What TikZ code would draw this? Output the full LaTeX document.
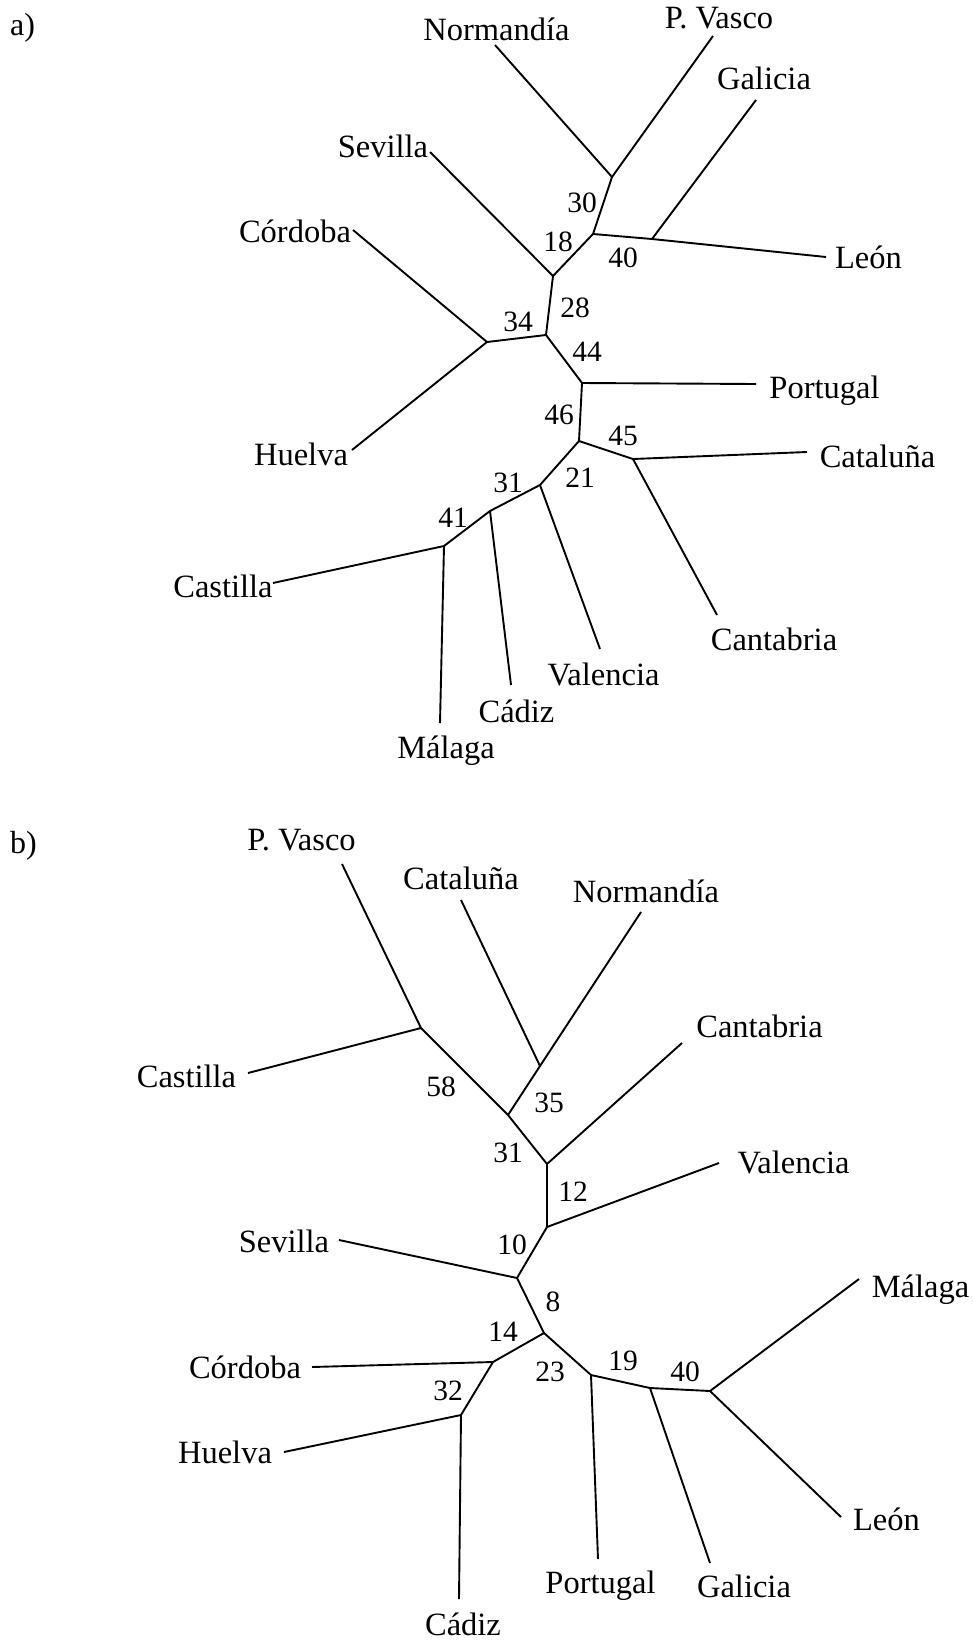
\documentclass[tikz,border=0pt]{standalone}
\usepackage{fontspec}
\setmainfont{Liberation Serif}
\begin{document}
\begin{tikzpicture}[x=1pt,y=-1pt,
  branch/.style={line width=1.9pt, line join=round},
  lbl/.style={font=\fontsize{32.5}{38}\selectfont, anchor=base, inner sep=0pt},
  num/.style={font=\fontsize{29.5}{34}\selectfont, inner sep=0pt},
  tag/.style={font=\fontsize{32}{36}\selectfont, anchor=base west, inner sep=0pt}]
\useasboundingbox (0,0) rectangle (973,1641);

% ---------------- tree a) ----------------
\node[tag] (taga) at (10,35) {a)};
% internal junctions
\coordinate (A) at (612,177);
\coordinate (B) at (593,234);
\coordinate (C) at (652,239);
\coordinate (D) at (553,276);
\coordinate (F) at (546,335);
\coordinate (E) at (487,342);
\coordinate (G) at (582,383);
\coordinate (H) at (579,441);
\coordinate (I) at (633,459);
\coordinate (J) at (540,485);
\coordinate (K) at (490,511);
\coordinate (L) at (444,546);
% leaf ends
\coordinate (aNor) at (495,45);
\coordinate (aPV) at (713,36);
\coordinate (aGal) at (756,100);
\coordinate (aLeon) at (826,257);
\coordinate (aSev) at (430,152);
\coordinate (aCor) at (353,230);
\coordinate (aHue) at (352,450);
\coordinate (aPor) at (756,384);
\coordinate (aCat) at (807,452);
\coordinate (aCan) at (717,615);
\coordinate (aVal) at (600,649);
\coordinate (aCad) at (511,685);
\coordinate (aMal) at (440,723);
\coordinate (aCas) at (273,583);

\draw[branch] (aNor) -- (A) -- (aPV);
\draw[branch] (A) -- (B) -- (C) -- (aLeon);
\draw[branch] (C) -- (aGal);
\draw[branch] (B) -- (D) -- (aSev);
\draw[branch] (D) -- (F) -- (E) -- (aCor);
\draw[branch] (E) -- (aHue);
\draw[branch] (F) -- (G) -- (aPor);
\draw[branch] (G) -- (H) -- (I) -- (aCat);
\draw[branch] (I) -- (aCan);
\draw[branch] (H) -- (J) -- (aVal);
\draw[branch] (J) -- (K) -- (aCad);
\draw[branch] (K) -- (L) -- (aCas);
\draw[branch] (L) -- (aMal);

% leaf labels
\node[lbl] (laNor) at (496.5,40) {Normandía};
\node[lbl] (laPV) at (719,28) {P. Vasco};
\node[lbl] (laGal) at (764,89) {Galicia};
\node[lbl] (laLeon) at (868.5,268) {León};
\node[lbl] (laSev) at (383,157) {Sevilla};
\node[lbl] (laCor) at (295,242) {Córdoba};
\node[lbl] (laHue) at (301,465) {Huelva};
\node[lbl] (laPor) at (824.5,398) {Portugal};
\node[lbl] (laCat) at (877.5,467) {Cataluña};
\node[lbl] (laCan) at (774,650) {Cantabria};
\node[lbl] (laVal) at (603.5,685) {Valencia};
\node[lbl] (laCad) at (516.5,722) {Cádiz};
\node[lbl] (laMal) at (446,758) {Málaga};
\node[lbl] (laCas) at (223,597) {Castilla};

% branch support values
\node[num] (na30) at (582,203) {30};
\node[num] (na18) at (558,242) {18};
\node[num] (na40) at (623,258) {40};
\node[num] (na28) at (575,308) {28};
\node[num] (na34) at (518,322) {34};
\node[num] (na44) at (587,352) {44};
\node[num] (na46) at (559,415) {46};
\node[num] (na45) at (623,436) {45};
\node[num] (na21) at (580,478) {21};
\node[num] (na31) at (508,483) {31};
\node[num] (na41) at (453,518) {41};

% ---------------- tree b) ----------------
\node[tag] (tagb) at (10,853) {b)};
% internal junctions
\coordinate (M) at (421,1028);
\coordinate (N) at (508,1115);
\coordinate (O) at (540,1066);
\coordinate (P) at (547,1164);
\coordinate (Q) at (547,1227);
\coordinate (R) at (517,1278);
\coordinate (S) at (544,1333);
\coordinate (T) at (493,1362);
\coordinate (U) at (461,1415);
\coordinate (V) at (591,1375);
\coordinate (W) at (650,1388);
\coordinate (X) at (710,1391);
% leaf ends
\coordinate (bPV) at (342,864);
\coordinate (bCas) at (248,1073);
\coordinate (bCat) at (461,900);
\coordinate (bNor) at (641,912);
\coordinate (bCan) at (682,1043);
\coordinate (bVal) at (719,1163);
\coordinate (bSev) at (339,1240);
\coordinate (bCor) at (312,1367);
\coordinate (bHue) at (284,1452);
\coordinate (bCad) at (459,1599);
\coordinate (bPor) at (598,1559);
\coordinate (bGal) at (710,1563);
\coordinate (bMal) at (859,1279);
\coordinate (bLeon) at (841,1517);

\draw[branch] (bPV) -- (M) -- (bCas);
\draw[branch] (M) -- (N) -- (O) -- (bCat);
\draw[branch] (O) -- (bNor);
\draw[branch] (N) -- (P) -- (bCan);
\draw[branch] (P) -- (Q) -- (bVal);
\draw[branch] (Q) -- (R) -- (bSev);
\draw[branch] (R) -- (S) -- (T) -- (bCor);
\draw[branch] (T) -- (U) -- (bHue);
\draw[branch] (U) -- (bCad);
\draw[branch] (S) -- (V) -- (bPor);
\draw[branch] (V) -- (W) -- (bGal);
\draw[branch] (W) -- (X) -- (bMal);
\draw[branch] (X) -- (bLeon);

% leaf labels
\node[lbl] (lbPV) at (301.5,850) {P. Vasco};
\node[lbl] (lbCat) at (461,889) {Cataluña};
\node[lbl] (lbNor) at (646,902) {Normandía};
\node[lbl] (lbCas) at (186.5,1087) {Castilla};
\node[lbl] (lbCan) at (759.5,1037) {Cantabria};
\node[lbl] (lbVal) at (793.5,1173) {Valencia};
\node[lbl] (lbSev) at (284,1252) {Sevilla};
\node[lbl] (lbCor) at (245,1378) {Córdoba};
\node[lbl] (lbHue) at (225,1463) {Huelva};
\node[lbl] (lbMal) at (920.5,1297) {Málaga};
\node[lbl] (lbLeon) at (886.5,1530) {León};
\node[lbl] (lbPor) at (600.5,1593) {Portugal};
\node[lbl] (lbGal) at (744,1597) {Galicia};
\node[lbl] (lbCad) at (463,1635) {Cádiz};

% branch support values
\node[num] (nb58) at (441,1087) {58};
\node[num] (nb35) at (549,1103) {35};
\node[num] (nb31) at (508,1153) {31};
\node[num] (nb12) at (573,1192) {12};
\node[num] (nb10) at (512,1245) {10};
\node[num] (nb8) at (553,1302) {8};
\node[num] (nb14) at (503,1332) {14};
\node[num] (nb23) at (550,1372) {23};
\node[num] (nb32) at (448,1391) {32};
\node[num] (nb19) at (623,1361) {19};
\node[num] (nb40) at (685,1372) {40};
\end{tikzpicture}
\end{document}
